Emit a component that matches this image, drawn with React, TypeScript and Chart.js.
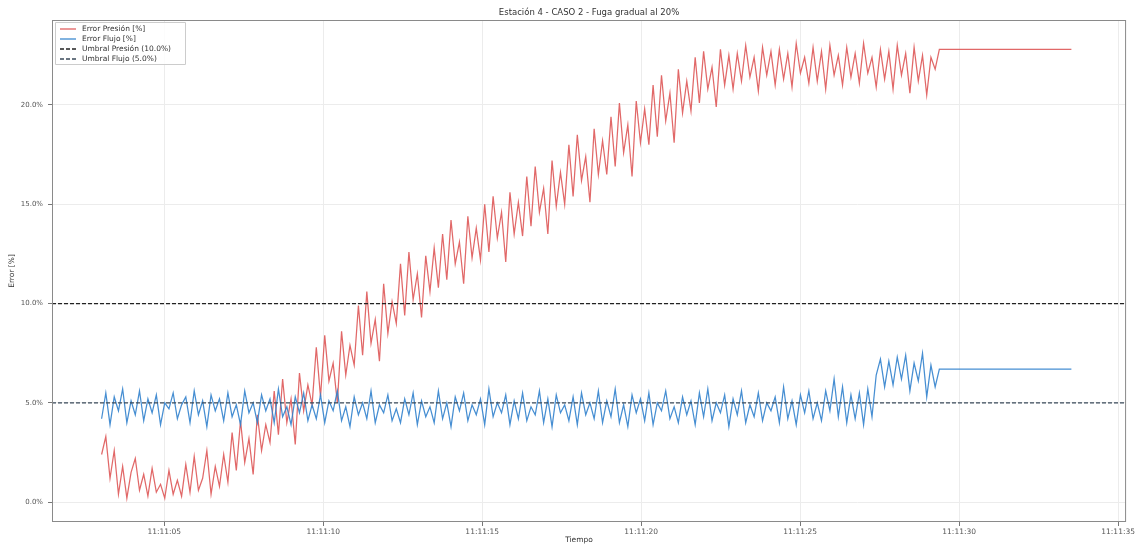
import React, { useEffect, useRef } from "react";
import { Chart, registerables } from "chart.js";

Chart.register(...registerables);

const TITLE = "Estación 4 - CASO 2 - Fuga gradual al 20%";
const X_TITLE = "Tiempo";
const Y_TITLE = "Error [%]";

const xTickValues = [0, 5, 10, 15, 20, 25, 30];
const xTickLabels = ["11:11:05", "11:11:10", "11:11:15", "11:11:20", "11:11:25", "11:11:30", "11:11:35"];
const yTickValues = [0, 5, 10, 15, 20];
const yTickLabels = ["0.0%", "5.0%", "10.0%", "15.0%", "20.0%"];

// sampling (seconds relative to first tick)
const sampleStart = -1.97;
const sampleStep = 0.1324;
const holdEnd = 28.53;

const presionError = [
  2.4, 3.3, 1.2, 2.6, 0.4, 1.8, 0.2, 1.5, 2.2, 0.6,
  1.4, 0.3, 1.7, 0.5, 0.9, 0.2, 1.6, 0.4, 1.1, 0.3,
  1.9, 0.5, 2.3, 0.6, 1.2, 2.6, 0.4, 1.8, 0.8, 2.4,
  1.0, 3.5, 1.6, 4.1, 2.0, 3.2, 1.4, 4.4, 2.6, 3.9,
  3.0, 5.6, 3.4, 6.2, 4.0, 5.2, 2.9, 6.5, 4.6, 5.9,
  4.9, 7.8, 5.3, 8.4, 6.1, 7.0, 5.0, 8.6, 6.4, 7.9,
  6.9, 9.9, 7.4, 10.6, 8.0, 9.2, 7.1, 11.0, 8.5, 10.1,
  9.0, 12.0, 9.4, 12.6, 10.2, 11.5, 9.3, 12.4, 10.6, 12.8,
  10.8, 13.5, 11.2, 14.2, 12.0, 13.1, 11.0, 14.4, 12.3, 13.8,
  12.2, 15.0, 12.6, 15.4, 13.3, 14.6, 12.1, 15.6, 13.5, 15.1,
  13.4, 16.4, 13.9, 16.9, 14.6, 15.8, 13.5, 17.2, 14.9, 16.6,
  15.0, 18.0, 15.4, 18.5, 16.2, 17.4, 15.1, 18.8, 16.5, 18.2,
  16.5, 19.4, 16.9, 20.1, 17.6, 19.0, 16.4, 20.2, 18.1, 19.8,
  18.0, 21.0, 18.4, 21.5, 19.2, 20.6, 18.1, 21.8, 19.6, 21.2,
  19.7, 22.4, 20.1, 22.7, 20.8, 21.9, 19.9, 22.8, 21.0, 22.5,
  20.8, 22.6, 21.2, 23.0, 21.4, 22.4, 20.7, 22.9, 21.5, 22.7,
  21.0, 22.8, 21.3, 22.6, 20.9, 23.1, 21.6, 22.4, 21.1, 22.9,
  21.2, 22.7, 20.8, 23.0, 21.5, 22.5, 21.0, 22.9, 21.4, 22.6,
  21.1, 23.1, 21.6, 22.4, 20.9, 22.8, 21.3, 22.7, 20.8, 23.0,
  21.5, 22.6, 20.6, 22.9, 21.2, 22.5, 20.5, 22.4, 21.8, 22.8,
];

const flujoError = [
  4.2, 5.5, 3.9, 5.3, 4.6, 5.7, 4.0, 5.1, 4.4, 5.6,
  4.1, 5.2, 4.5, 5.4, 3.9, 5.0, 4.7, 5.5, 4.2, 4.9,
  5.3, 4.0, 5.6, 4.4, 5.1, 3.8, 5.4, 4.6, 5.2, 4.1,
  5.5, 4.3, 4.9, 3.9, 5.6, 4.5, 5.0, 4.0, 5.4, 4.6,
  5.2, 4.0, 5.7, 4.3, 4.8, 3.9, 5.3, 4.5, 5.5, 4.1,
  4.9, 4.2, 5.4, 4.0, 5.1, 4.6, 5.6, 4.1, 4.8, 3.8,
  5.3, 4.4, 5.0, 4.2, 5.6, 4.0, 4.9, 4.5, 5.4, 4.1,
  4.7, 4.0, 5.2, 4.4, 5.5, 3.9, 5.1, 4.3, 4.8, 4.0,
  5.6, 4.2, 5.0, 3.8, 5.3, 4.6, 5.5, 4.1, 4.9, 4.4,
  5.2, 3.9, 5.7, 4.3, 5.0, 4.5, 5.4, 3.9, 5.1, 4.2,
  5.5, 4.1, 4.8, 4.4, 5.6, 4.0, 5.2, 3.8, 5.4, 4.5,
  4.9, 4.1, 5.3, 3.9, 5.5, 4.4, 5.0, 4.2, 5.6, 4.0,
  5.1, 4.3, 5.7, 4.0, 4.9, 3.8, 5.4, 4.5, 5.2, 4.1,
  5.5, 3.9, 5.0, 4.6, 5.6, 4.2, 4.8, 4.0, 5.3, 4.4,
  5.1, 3.9, 5.5, 4.3, 5.7, 4.1, 5.0, 4.5, 5.4, 3.8,
  5.2, 4.4, 5.6, 4.0, 4.9, 4.3, 5.5, 4.1, 5.0, 4.6,
  5.3, 4.0, 5.8, 4.2, 5.1, 3.9, 5.4, 4.5, 5.6, 4.2,
  5.0, 4.1, 5.6, 4.6, 6.2, 4.3, 5.8, 4.0, 5.4, 4.2,
  5.5, 3.9, 5.7, 4.3, 6.4, 7.2, 5.8, 7.1, 5.9, 7.3,
  6.2, 7.4, 5.6, 7.0, 6.1, 7.5, 5.3, 6.9, 5.8, 6.7,
];

const umbralPresion = 10;
const umbralFlujo = 5;

const legendItems = [
  { label: "Error Presión [%]", color: "#e06060", dash: [] as number[] },
  { label: "Error Flujo [%]", color: "#3d8ad0", dash: [] as number[] },
  { label: "Umbral Presión (10.0%)", color: "#222222", dash: [4, 2] },
  { label: "Umbral Flujo (5.0%)", color: "#3a4a5a", dash: [4, 2] },
];

const X_MIN = -3.53;
const X_MAX = 30.25;
const Y_MIN = -1.0;
const Y_MAX = 24.28;

function series(values: number[]) {
  const pts = values.map((v, i) => ({ x: sampleStart + i * sampleStep, y: v }));
  pts.push({ x: holdEnd, y: values[values.length - 1] });
  return pts;
}

const FONT = "'DejaVu Sans', sans-serif";

const decorPlugin = {
  id: "decor",
  afterDraw(chart: any) {
    const { ctx, chartArea } = chart;
    const { left, right, top, bottom } = chartArea;
    ctx.save();
    // frame
    ctx.strokeStyle = "#8a8a8a";
    ctx.lineWidth = 1;
    ctx.strokeRect(left + 0.5, top + 0.5, right - left - 1, bottom - top - 1);
    // title
    ctx.fillStyle = "#333";
    ctx.font = `8.5px ${FONT}`;
    ctx.textAlign = "center";
    ctx.textBaseline = "middle";
    ctx.fillText(TITLE, (left + right) / 2, 13);
    // x title
    ctx.font = `7.5px ${FONT}`;
    ctx.fillText(X_TITLE, (left + right) / 2 - 10, 540);
    // y title
    ctx.save();
    ctx.translate(12, (top + bottom) / 2);
    ctx.rotate(-Math.PI / 2);
    ctx.fillText(Y_TITLE, 0, 0);
    ctx.restore();
    // legend
    const bx = left + 3;
    const by = top + 2;
    const bw = 130;
    const bh = 42;
    ctx.fillStyle = "rgba(255,255,255,0.85)";
    ctx.strokeStyle = "#cccccc";
    ctx.lineWidth = 1;
    ctx.beginPath();
    ctx.rect(bx + 0.5, by + 0.5, bw, bh);
    ctx.fill();
    ctx.stroke();
    ctx.font = `7.5px ${FONT}`;
    ctx.textAlign = "left";
    legendItems.forEach((it, i) => {
      const yy = by + 7 + i * 10;
      ctx.strokeStyle = it.color;
      ctx.lineWidth = 1.3;
      ctx.setLineDash(it.dash);
      ctx.beginPath();
      ctx.moveTo(bx + 5, yy);
      ctx.lineTo(bx + 21, yy);
      ctx.stroke();
      ctx.setLineDash([]);
      ctx.fillStyle = "#333";
      ctx.fillText(it.label, bx + 27, yy);
    });
    ctx.restore();
  },
};

export default function App() {
  const ref = useRef<HTMLCanvasElement | null>(null);

  useEffect(() => {
    if (!ref.current) return;
    const chart = new Chart(ref.current, {
      type: "line",
      data: {
        datasets: [
          {
            label: "Umbral Presión (10.0%)",
            data: [
              { x: X_MIN, y: umbralPresion },
              { x: X_MAX, y: umbralPresion },
            ],
            borderColor: "#222222",
            borderWidth: 1.3,
            borderDash: [4, 2],
            pointRadius: 0,
            order: 0,
          },
          {
            label: "Umbral Flujo (5.0%)",
            data: [
              { x: X_MIN, y: umbralFlujo },
              { x: X_MAX, y: umbralFlujo },
            ],
            borderColor: "#3a4a5a",
            borderWidth: 1.3,
            borderDash: [4, 2],
            pointRadius: 0,
            order: 0,
          },
          {
            label: "Error Presión [%]",
            data: series(presionError),
            borderColor: "rgba(222,88,88,0.9)",
            borderWidth: 1.25,
            pointRadius: 0,
            tension: 0,
            order: 2,
          },
          {
            label: "Error Flujo [%]",
            data: series(flujoError),
            borderColor: "rgba(50,130,205,0.9)",
            borderWidth: 1.25,
            pointRadius: 0,
            tension: 0,
            order: 1,
          },
        ],
      },
      options: {
        responsive: false,
        animation: false,
        layout: { padding: { top: 20, right: 4, left: 0, bottom: 0 } },
        plugins: {
          legend: { display: false },
          title: { display: false },
          tooltip: { enabled: false },
        },
        scales: {
          x: {
            type: "linear",
            min: X_MIN,
            max: X_MAX,
            afterBuildTicks: (s: any) => {
              s.ticks = xTickValues.map((v) => ({ value: v }));
            },
            afterFit: (s: any) => {
              s.height = 23;
            },
            ticks: {
              autoSkip: false,
              maxRotation: 0,
              padding: 2,
              color: "#555",
              font: { family: FONT, size: 7.5 },
              callback: (v: any) => {
                const i = xTickValues.indexOf(Number(v));
                return i >= 0 ? xTickLabels[i] : "";
              },
            },
            grid: { color: "#ececec", tickColor: "#777", tickLength: 4, lineWidth: 1 },
            border: { display: false },
          },
          y: {
            type: "linear",
            min: Y_MIN,
            max: Y_MAX,
            afterBuildTicks: (s: any) => {
              s.ticks = yTickValues.map((v) => ({ value: v }));
            },
            afterFit: (s: any) => {
              s.width = 52;
            },
            ticks: {
              autoSkip: false,
              padding: 5,
              color: "#555",
              font: { family: FONT, size: 7 },
              callback: (v: any) => {
                const i = yTickValues.indexOf(Number(v));
                return i >= 0 ? yTickLabels[i] : "";
              },
            },
            grid: { color: "#ececec", tickColor: "#777", tickLength: 4, lineWidth: 1 },
            border: { display: false },
          },
        },
      },
      plugins: [decorPlugin],
    } as any);
    return () => chart.destroy();
  }, []);

  return (
    <div style={{ position: "fixed", left: 0, top: 0, width: 1137, height: 545, background: "#fff" }}>
      <canvas ref={ref} width={1137} height={545} style={{ width: 1137, height: 545 }} />
    </div>
  );
}
